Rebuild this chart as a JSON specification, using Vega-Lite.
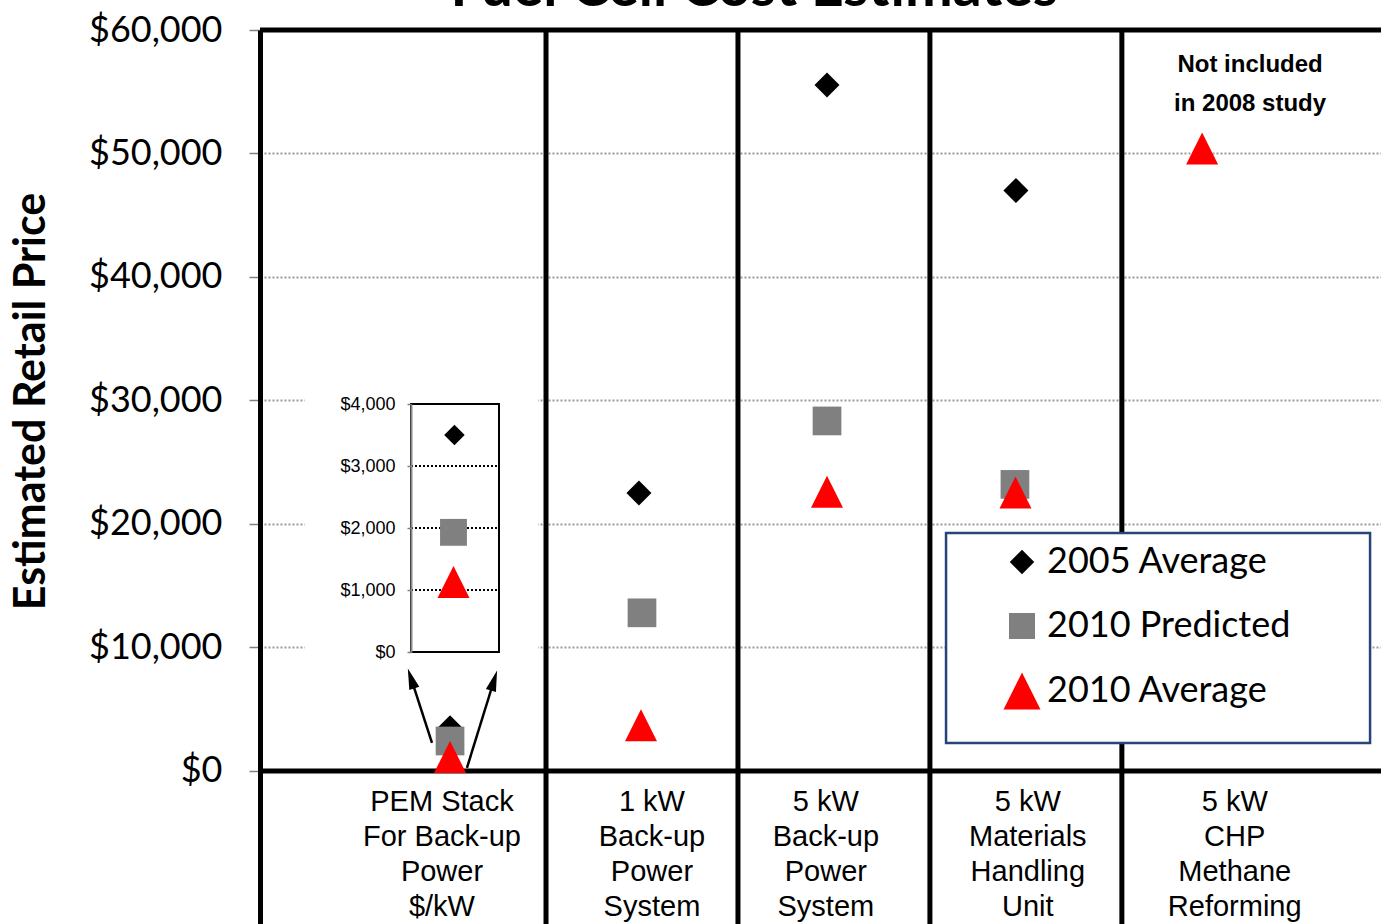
{
  "$schema": "https://vega.github.io/schema/vega-lite/v6.json",
  "width": 1121,
  "height": 894,
  "autosize": {"type": "none"},
  "padding": {"left": 260, "top": 30, "right": 0, "bottom": 0},
  "background": "white",
  "config": {"view": {"stroke": null}},
  "datasets": {
    "points": [
      {"category": "PEM Stack For Back-up Power $/kW", "series": "2005 Average", "x": 0.99, "y": 3500},
      {"category": "PEM Stack For Back-up Power $/kW", "series": "2010 Predicted", "x": 0.99, "y": 2420},
      {"category": "PEM Stack For Back-up Power $/kW", "series": "2010 Average", "x": 0.99, "y": 1130},
      {"category": "1 kW Back-up Power System", "series": "2005 Average", "x": 1.974, "y": 22500},
      {"category": "1 kW Back-up Power System", "series": "2010 Predicted", "x": 1.99, "y": 12800},
      {"category": "1 kW Back-up Power System", "series": "2010 Average", "x": 1.985, "y": 3700},
      {"category": "5 kW Back-up Power System", "series": "2005 Average", "x": 2.954, "y": 55550},
      {"category": "5 kW Back-up Power System", "series": "2010 Predicted", "x": 2.954, "y": 28340},
      {"category": "5 kW Back-up Power System", "series": "2010 Average", "x": 2.954, "y": 22600},
      {"category": "5 kW Materials Handling Unit", "series": "2005 Average", "x": 3.938, "y": 47000},
      {"category": "5 kW Materials Handling Unit", "series": "2010 Predicted", "x": 3.933, "y": 23200},
      {"category": "5 kW Materials Handling Unit", "series": "2010 Average", "x": 3.936, "y": 22550},
      {"category": "5 kW CHP Methane Reforming", "series": "2010 Average", "x": 4.908, "y": 50400}
    ],
    "inset": [
      {"series": "2005 Average", "x": 1.013, "y": 3500},
      {"series": "2010 Predicted", "x": 1.008, "y": 1930},
      {"series": "2010 Average", "x": 1.008, "y": 1130}
    ],
    "separators": [{"x": 1.49}, {"x": 2.49}, {"x": 3.49}, {"x": 4.49}],
    "hlines": [{"y": 60000}, {"y": 0}],
    "titles": [{"x": 2.574, "y": 61950, "label": "Fuel Cell Cost Estimates"}],
    "categories": [
      {"x": 0.948, "y": -3288, "label": "PEM Stack\nFor Back-up\nPower\n$/kW"},
      {"x": 2.042, "y": -3288, "label": "1 kW\nBack-up\nPower\nSystem"},
      {"x": 2.948, "y": -3288, "label": "5 kW\nBack-up\nPower\nSystem"},
      {"x": 4.0, "y": -3288, "label": "5 kW\nMaterials\nHandling\nUnit"},
      {"x": 5.078, "y": -3288, "label": "5 kW\nCHP\nMethane\nReforming"}
    ],
    "notes": [{"x": 5.158, "y": 56620, "label": "Not included\nin 2008 study"}],
    "arrows": [
      {"side": "left", "x": 0.896, "y": 2267, "x2": 0.787, "y2": 7490},
      {"side": "right", "x": 1.078, "y": 243, "x2": 1.219, "y2": 7320}
    ],
    "panels": [{"x": 0.234, "x2": 1.448, "y": 30600, "y2": 9000}],
    "legendbox": [{"x": 3.574, "x2": 5.783, "y": 19271, "y2": 2267}],
    "insetgrid": [{"x": 0.7867, "x2": 1.2451, "y": 1000}, {"x": 0.7867, "x2": 1.2451, "y": 2000}, {"x": 0.7867, "x2": 1.2451, "y": 3000}],
    "insetbox": [{"x": 0.7867, "x2": 1.2451, "y": 0, "y2": 4000}]
  },
  "layer": [
    {
      "layer": [
        {
          "data": {"name": "panels"},
          "mark": {"type": "rect", "fill": "white", "stroke": null},
          "encoding": {
            "x": {"field": "x", "type": "quantitative", "scale": {"domain": [0, 5.84], "nice": false, "zero": false}, "axis": null},
            "x2": {"field": "x2"},
            "y": {"field": "y", "type": "quantitative", "scale": {"domain": [-12400, 60000], "nice": false, "zero": false},
              "axis": {"values": [0, 10000, 20000, 30000, 40000, 50000, 60000], "format": "$,.0f",
                "title": "Estimated Retail Price", "titleFont": "Lato", "titleFontSize": 43, "titleFontWeight": "bold", "titleColor": "black",
                "titleX": -229, "titleY": 371, "titleAngle": -90, "titleAlign": "center", "titleBaseline": "middle",
                "labelFont": "Lato", "labelFontSize": 36, "labelColor": "black", "labelPadding": 27, "labelFlush": false, "labelOverlap": false,
                "tickSize": 11, "tickColor": "#808080", "tickWidth": 1.5, "domainColor": "black", "domainWidth": 5,
                "grid": true, "gridColor": "#9a9a9a", "gridDash": [2, 2], "gridWidth": 2}},
            "y2": {"field": "y2"}
          }
        },
        {
          "data": {"name": "titles"},
          "mark": {"type": "text", "font": "Lato", "fontWeight": "bold", "fontSize": 57, "align": "center", "baseline": "alphabetic", "color": "black"},
          "encoding": {
            "x": {"field": "x", "type": "quantitative", "scale": {"domain": [0, 5.84], "nice": false, "zero": false}, "axis": null},
            "y": {"field": "y", "type": "quantitative", "scale": {"domain": [-12400, 60000], "nice": false, "zero": false}},
            "text": {"field": "label"}
          }
        },
        {
          "data": {"name": "categories"},
          "mark": {"type": "text", "font": "Liberation Sans", "fontSize": 29, "lineHeight": 35, "lineBreak": "\n", "align": "center", "baseline": "alphabetic", "color": "black"},
          "encoding": {
            "x": {"field": "x", "type": "quantitative", "scale": {"domain": [0, 5.84], "nice": false, "zero": false}, "axis": null},
            "y": {"field": "y", "type": "quantitative", "scale": {"domain": [-12400, 60000], "nice": false, "zero": false}},
            "text": {"field": "label"}
          }
        },
        {
          "data": {"name": "notes"},
          "mark": {"type": "text", "font": "Liberation Sans", "fontWeight": "bold", "fontSize": 24, "lineHeight": 39, "lineBreak": "\n", "align": "center", "baseline": "alphabetic", "color": "black"},
          "encoding": {
            "x": {"field": "x", "type": "quantitative", "scale": {"domain": [0, 5.84], "nice": false, "zero": false}, "axis": null},
            "y": {"field": "y", "type": "quantitative", "scale": {"domain": [-12400, 60000], "nice": false, "zero": false}},
            "text": {"field": "label"}
          }
        },
        {
          "data": {"name": "separators"},
          "mark": {"type": "rule", "color": "black", "strokeWidth": 5},
          "encoding": {
            "x": {"field": "x", "type": "quantitative", "scale": {"domain": [0, 5.84], "nice": false, "zero": false}, "axis": null}
          }
        },
        {
          "data": {"name": "hlines"},
          "mark": {"type": "rule", "color": "black", "strokeWidth": 5},
          "encoding": {
            "y": {"field": "y", "type": "quantitative", "scale": {"domain": [-12400, 60000], "nice": false, "zero": false}}
          }
        },
        {
          "data": {"name": "legendbox"},
          "mark": {"type": "rect", "fill": "#7f7f7f", "opacity": 0.35, "xOffset": 5, "yOffset": 5},
          "encoding": {
            "x": {"field": "x", "type": "quantitative", "scale": {"domain": [0, 5.84], "nice": false, "zero": false}, "axis": null},
            "x2": {"field": "x2"},
            "y": {"field": "y", "type": "quantitative", "scale": {"domain": [-12400, 60000], "nice": false, "zero": false}},
            "y2": {"field": "y2"}
          }
        },
        {
          "data": {"name": "legendbox"},
          "mark": {"type": "rect", "fill": "white", "stroke": "#264478", "strokeWidth": 2.5},
          "encoding": {
            "x": {"field": "x", "type": "quantitative", "scale": {"domain": [0, 5.84], "nice": false, "zero": false}, "axis": null},
            "x2": {"field": "x2"},
            "y": {"field": "y", "type": "quantitative", "scale": {"domain": [-12400, 60000], "nice": false, "zero": false}},
            "y2": {"field": "y2"}
          }
        },
        {
          "data": {"name": "arrows"},
          "mark": {"type": "rule", "color": "black", "strokeWidth": 2.5},
          "encoding": {
            "x": {"field": "x", "type": "quantitative", "scale": {"domain": [0, 5.84], "nice": false, "zero": false}, "axis": null},
            "x2": {"field": "x2"},
            "y": {"field": "y", "type": "quantitative", "scale": {"domain": [-12400, 60000], "nice": false, "zero": false}},
            "y2": {"field": "y2"}
          }
        },
        {
          "data": {"name": "arrows"},
          "mark": {"type": "point", "filled": true, "color": "black", "opacity": 1, "shape": "M0,-1L0.5,1L-0.5,1Z", "size": 440, "strokeWidth": 0},
          "encoding": {
            "x": {"field": "x2", "type": "quantitative", "scale": {"domain": [0, 5.84], "nice": false, "zero": false}, "axis": null},
            "y": {"field": "y2", "type": "quantitative", "scale": {"domain": [-12400, 60000], "nice": false, "zero": false}},
            "angle": {"field": "side", "type": "nominal", "scale": {"domain": ["left", "right"], "range": [-18, 17]}, "legend": null}
          }
        },
        {
          "data": {"name": "points"},
          "mark": {"type": "point", "filled": true, "opacity": 1, "strokeWidth": 0},
          "encoding": {
            "x": {"field": "x", "type": "quantitative", "scale": {"domain": [0, 5.84], "nice": false, "zero": false}, "axis": null},
            "y": {"field": "y", "type": "quantitative", "scale": {"domain": [-12400, 60000], "nice": false, "zero": false}},
            "color": {"field": "series", "type": "nominal",
              "scale": {"domain": ["2005 Average", "2010 Predicted", "2010 Average"], "range": ["#000000", "#808080", "#FF0000"]},
              "legend": {"title": null, "orient": "none", "legendX": 744, "legendY": 514, "padding": 0, "rowPadding": 28,
                "labelFont": "Lato", "labelFontSize": 36, "labelColor": "black", "labelOffset": 7, "labelLimit": 400,
                "symbolSize": 1296, "symbolStrokeWidth": 0, "symbolOpacity": 1,
                "encode": {"symbols": {"update": {"size": {"signal": "datum.value === '2010 Average' ? 1369 : (datum.value === '2010 Predicted' ? 676 : 600)"}}}}}},
            "shape": {"field": "series", "type": "nominal",
              "scale": {"domain": ["2005 Average", "2010 Predicted", "2010 Average"], "range": ["diamond", "square", "M0,-1L1,1L-1,1Z"]}},
            "size": {"field": "series", "type": "ordinal",
              "scale": {"domain": ["2005 Average", "2010 Predicted", "2010 Average"], "range": [625, 1024, 1156]}, "legend": null}
          }
        }
      ]
    },
    {
      "layer": [
        {
          "data": {"name": "insetgrid"},
          "mark": {"type": "rule", "color": "black", "strokeWidth": 2, "strokeDash": [2, 2]},
          "encoding": {
            "x": {"field": "x", "type": "quantitative", "scale": {"domain": [0, 5.84], "nice": false, "zero": false}, "axis": null},
            "x2": {"field": "x2"},
            "y": {"field": "y", "type": "quantitative", "scale": {"domain": [0, 4000], "range": [622, 374], "nice": false, "zero": false},
              "axis": {"orient": "left", "offset": -151, "zindex": 1, "values": [0, 1000, 2000, 3000, 4000], "format": "$,.0f", "title": null,
                "labelFont": "Liberation Sans", "labelFontSize": 18, "labelColor": "black", "labelPadding": 12, "labelFlush": false, "labelOverlap": false,
                "tickSize": 4, "tickColor": "#808080", "tickWidth": 1.5, "domainColor": "#8a8a8a", "domainWidth": 2, "grid": false}}
          }
        },
        {
          "data": {"name": "insetbox"},
          "mark": {"type": "rect", "filled": false, "color": "black", "strokeWidth": 2},
          "encoding": {
            "x": {"field": "x", "type": "quantitative", "scale": {"domain": [0, 5.84], "nice": false, "zero": false}, "axis": null},
            "x2": {"field": "x2"},
            "y": {"field": "y", "type": "quantitative", "scale": {"domain": [0, 4000], "range": [622, 374], "nice": false, "zero": false}},
            "y2": {"field": "y2"}
          }
        },
        {
          "data": {"name": "inset"},
          "mark": {"type": "point", "filled": true, "opacity": 1, "strokeWidth": 0},
          "encoding": {
            "x": {"field": "x", "type": "quantitative", "scale": {"domain": [0, 5.84], "nice": false, "zero": false}, "axis": null},
            "y": {"field": "y", "type": "quantitative", "scale": {"domain": [0, 4000], "range": [622, 374], "nice": false, "zero": false}},
            "color": {"field": "series", "type": "nominal",
              "scale": {"domain": ["2005 Average", "2010 Predicted", "2010 Average"], "range": ["#000000", "#808080", "#FF0000"]}},
            "shape": {"field": "series", "type": "nominal",
              "scale": {"domain": ["2005 Average", "2010 Predicted", "2010 Average"], "range": ["diamond", "square", "M0,-1L1,1L-1,1Z"]}},
            "size": {"field": "series", "type": "ordinal",
              "scale": {"domain": ["2005 Average", "2010 Predicted", "2010 Average"], "range": [420, 1024, 1156]}, "legend": null}
          }
        }
      ]
    }
  ],
  "resolve": {"scale": {"y": "independent", "size": "independent"}}
}
